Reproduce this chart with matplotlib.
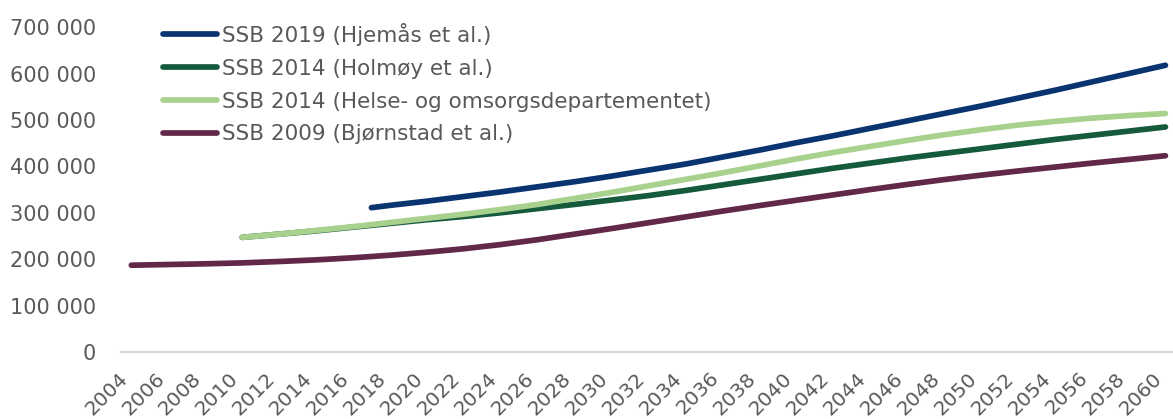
import matplotlib
matplotlib.use("Agg")
import numpy as np
import matplotlib.pyplot as plt
from matplotlib.ticker import FuncFormatter

# Data (people, by year)
years_2009 = [2004, 2006, 2008, 2010, 2012, 2014, 2016, 2018, 2020, 2022, 2024, 2026, 2028,
              2030, 2032, 2034, 2036, 2038, 2040, 2042, 2044, 2046, 2048, 2050, 2052, 2054,
              2056, 2058, 2060]
ssb_2009 = [187000, 188500, 190000, 192000, 195000, 198500, 203000, 208500, 215000, 222500,
            231500, 242000, 254000, 266000, 278500, 291000, 303500, 315500, 327000, 338500,
            350000, 361000, 371500, 381000, 390000, 398500, 407000, 415000, 423000]

years_2014 = [2010, 2012, 2014, 2016, 2018, 2020, 2022, 2024, 2026, 2028, 2030, 2032, 2034,
              2036, 2038, 2040, 2042, 2044, 2046, 2048, 2050, 2052, 2054, 2056, 2058, 2060]
ssb_2014_holmoy = [247000, 254000, 261000, 269000, 277000, 285000, 292000, 300000, 309000,
                   318000, 327500, 337000, 348000, 360000, 372000, 384000, 396000, 407000,
                   418000, 428000, 438000, 448000, 458000, 467000, 476000, 485000]
ssb_2014_hod = [247000, 254000, 262000, 270000, 279000, 288000, 297000, 307000, 318000,
                331000, 344000, 358000, 372000, 386000, 401000, 416000, 430000, 443000,
                456000, 468000, 479000, 489000, 497000, 504000, 509500, 514000]

years_2019 = [2017, 2018, 2020, 2022, 2024, 2026, 2028, 2030, 2032, 2034, 2036, 2038, 2040,
              2042, 2044, 2046, 2048, 2050, 2052, 2054, 2056, 2058, 2060]
ssb_2019 = [311000, 316000, 325000, 335000, 345000, 356000, 367000, 379000, 392000, 405000,
            420000, 435000, 451000, 466000, 482000, 498000, 514000, 530000, 547000, 564000,
            582000, 600000, 618000]

labels = ["SSB 2019 (Hjemås et al.)", "SSB 2014 (Holmøy et al.)",
          "SSB 2014 (Helse- og omsorgsdepartementet)", "SSB 2009 (Bjørnstad et al.)"]
colors = ["#0a3470", "#155a3c", "#a9d18e", "#62284a"]

txt = "#595959"

fig = plt.figure(figsize=(11.73, 4.19), dpi=100)
ax = fig.add_axes([0.103, 0.160, 0.897, 0.775])

series = [(years_2019, ssb_2019), (years_2014, ssb_2014_holmoy),
          (years_2014, ssb_2014_hod), (years_2009, ssb_2009)]
lines = []
for (xs, ys), lab, col in zip(series, labels, colors):
    ln, = ax.plot(xs, ys, color=col, lw=4.1, solid_capstyle="round", label=lab)
    lines.append(ln)
# light green on top of dark green where they overlap
lines[2].set_zorder(2.5)

ax.set_xlim(2003.43, 2060.41)
ax.set_ylim(0, 700000)
ax.set_xticks(range(2004, 2061, 2))
ax.set_yticks(range(0, 700001, 100000))
ax.yaxis.set_major_formatter(FuncFormatter(lambda v, p: f"{int(v):,}".replace(",", " ")))
ax.tick_params(axis="both", length=0, colors=txt, labelsize=15)
ax.tick_params(axis="x", labelsize=14.5, pad=12)
# excel style: rotated label box right edge sits on the tick
for lbl in ax.get_xticklabels():
    lbl.set_rotation(45)
    lbl.set_ha("right")
ax.tick_params(axis="y", pad=18)

for s in ["top", "right", "left"]:
    ax.spines[s].set_visible(False)
ax.spines["bottom"].set_color("#d9d9d9")
ax.spines["bottom"].set_linewidth(1.5)

leg = ax.legend(loc="upper left", bbox_to_anchor=(0.04, 1.014), frameon=False,
                fontsize=15.5, handlelength=2.5, handletextpad=0.25, labelspacing=0.6,
                borderpad=0, borderaxespad=0)
for t in leg.get_texts():
    t.set_color(txt)

fig.savefig("out.png", dpi=100)
